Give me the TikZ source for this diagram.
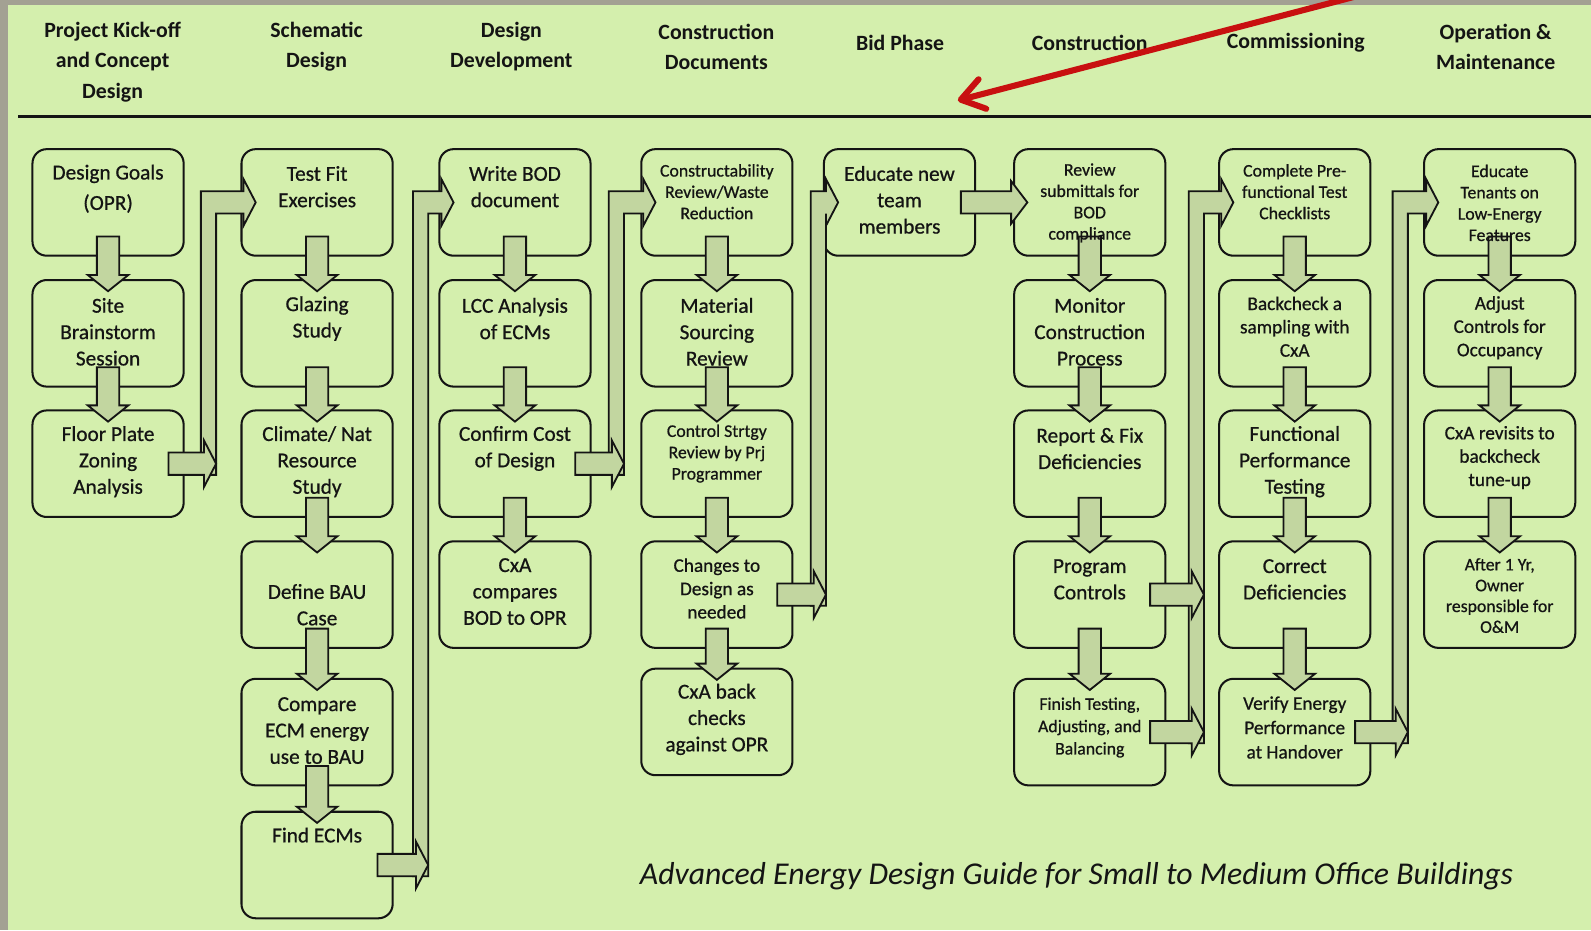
\documentclass[tikz,border=0pt]{standalone}
\usepackage{fontspec}
\setmainfont{Carlito}
\newfontfamily\boxfont{Carlito}[FakeBold=0.7]
\newfontfamily\hdrfont{Carlito}[FakeBold=0.5]
\usetikzlibrary{calc,arrows.meta}
\definecolor{bggreen}{RGB}{212,239,173}
\definecolor{framegray}{RGB}{163,161,147}
\definecolor{arrowfill}{RGB}{194,214,160}
\definecolor{redarrow}{RGB}{200,16,16}
\definecolor{ink}{RGB}{20,20,20}
% down block arrow between two stacked boxes
\newcommand\darr[2]{%
  \draw[blk] ($(#1.south)+(-11,-20)$) -- ($(#1.south)+(11,-20)$) -- ($(#2.north)+(11,-4)$) -- ($(#2.north)+(20,-4)$) -- ($(#2.north)+(0,12)$) -- ($(#2.north)+(-20,-4)$) -- ($(#2.north)+(-11,-4)$) -- cycle;}
% elbow bar from lowest feeder box #1 up to target box #2, bar at #3 right of feeder
\newcommand\elbow[3]{%
  \draw[blk] let \p1=(#1.east), \p2=(#2.west) in
  (\x1+#3pt,\y1-11pt) -- (\x1+#3pt,\y2+11pt) -- (\x2+3pt,\y2+11pt) -- (\x2+3pt,\y2+23pt) -- (\x2+15pt,\y2) -- (\x2+3pt,\y2-23pt) -- (\x2+3pt,\y2-11pt) -- (\x1+#3pt+15pt,\y2-11pt) -- (\x1+#3pt+15pt,\y1-11pt) -- cycle;}
% feeder arrow from box #1 into the bar at #2 right of it
\newcommand\feed[2]{%
  \draw[blk] let \p1=(#1.east) in
  (\x1-16pt,\y1+11pt) -- (\x1+#2pt+3pt,\y1+11pt) -- (\x1+#2pt+3pt,\y1+23pt) -- (\x1+#2pt+15pt,\y1) -- (\x1+#2pt+3pt,\y1-23pt) -- (\x1+#2pt+3pt,\y1-11pt) -- (\x1-16pt,\y1-11pt) -- cycle;}
\begin{document}
\begin{tikzpicture}[x=1pt,y=-1pt,
  box/.style={draw=ink, line width=2pt, rounded corners=14pt, minimum width=149pt, minimum height=105pt, inner sep=0pt},
  blk/.style={draw=ink, line width=1.8pt, fill=arrowfill, line join=miter},
  txt/.style={align=center, inner sep=0pt, text=ink, font=\boxfont\fontsize{21}{26}\selectfont},
  sm/.style={font=\boxfont\fontsize{17.5}{21}\selectfont},
  md/.style={font=\boxfont\fontsize{19}{23}\selectfont},
  hdr/.style={align=center, inner sep=0pt, text=ink, font=\bfseries\fontsize{21.5}{30}\selectfont}]
\useasboundingbox (0,0) rectangle (1568,917);
\fill[framegray] (0,0) rectangle (1568,917);
\fill[bggreen] (8,5) rectangle (1568,917);

% headers
\node[hdr] (h1) at (111,61) {Project Kick-off\\and Concept\\Design};
\node[hdr] (h2) at (312,46) {Schematic\\Design};
\node[hdr] (h3) at (504,46) {Design\\Development};
\node[hdr] (h4) at (706,46) {Construction\\Documents};
\node[hdr] (h5) at (887,42) {Bid Phase};
\node[hdr] (h6) at (1074,42) {Construction};
\node[hdr] (h7) at (1277,42) {Commissioning};
\node[hdr] (h8) at (1474,46) {Operation \&\\Maintenance};
\coordinate (hl1) at (18,115);
\coordinate (hl2) at (1568,115);
\draw[ink, line width=2.5pt] (hl1) -- (hl2);

% boxes
\foreach \n/\y in {r1/199.5, r2/328.5, r3/457} \node[box] (c1\n) at (106.5,\y) {};
\foreach \n/\y in {r1/199.5, r2/328.5, r3/457, r4/586, r5/721.5, r6/852.5} \node[box] (c2\n) at (312.5,\y) {};
\foreach \n/\y in {r1/199.5, r2/328.5, r3/457, r4/586} \node[box] (c3\n) at (507.5,\y) {};
\foreach \n/\y in {r1/199.5, r2/328.5, r3/457, r4/586, r5/711.5} \node[box] (c4\n) at (706.5,\y) {};
\node[box] (c5r1) at (886.5,199.5) {};
\foreach \n/\y in {r1/199.5, r2/328.5, r3/457, r4/586, r5/721.5} \node[box] (c6\n) at (1074,\y) {};
\foreach \n/\y in {r1/199.5, r2/328.5, r3/457, r4/586, r5/721.5} \node[box] (c7\n) at (1276,\y) {};
\foreach \n/\y in {r1/199.5, r2/328.5, r3/457, r4/586} \node[box] (c8\n) at (1478,\y) {};

% vertical arrows
\darr{c1r1}{c1r2} \darr{c1r2}{c1r3}
\darr{c2r1}{c2r2} \darr{c2r2}{c2r3} \darr{c2r3}{c2r4} \darr{c2r4}{c2r5} \darr{c2r5}{c2r6}
\darr{c3r1}{c3r2} \darr{c3r2}{c3r3} \darr{c3r3}{c3r4}
\darr{c4r1}{c4r2} \darr{c4r2}{c4r3} \darr{c4r3}{c4r4} \darr{c4r4}{c4r5}
\darr{c6r1}{c6r2} \darr{c6r2}{c6r3} \darr{c6r3}{c6r4} \darr{c6r4}{c6r5}
\darr{c7r1}{c7r2} \darr{c7r2}{c7r3} \darr{c7r3}{c7r4} \darr{c7r4}{c7r5}
\darr{c8r1}{c8r2} \darr{c8r2}{c8r3} \darr{c8r3}{c8r4}

% column-to-column connectors
\elbow{c1r3}{c2r1}{16} \feed{c1r3}{16}
\elbow{c2r6}{c3r1}{19} \feed{c2r6}{19}
\elbow{c3r3}{c4r1}{17} \feed{c3r3}{17}
\elbow{c4r4}{c5r1}{17} \feed{c4r4}{17}
\draw[blk] let \p1=(c5r1.east), \p2=(c6r1.west) in
  (\x1-15pt,\y1+11pt) -- (\x2-2pt,\y1+11pt) -- (\x2-2pt,\y1+21pt) -- (\x2+14pt,\y1) -- (\x2-2pt,\y1-21pt) -- (\x2-2pt,\y1-11pt) -- (\x1-15pt,\y1-11pt) -- cycle;
\elbow{c6r5}{c7r1}{22} \feed{c6r4}{22} \feed{c6r5}{22}
\elbow{c7r5}{c8r1}{21} \feed{c7r5}{21}

% texts
\node[txt,font=\boxfont\fontsize{21}{30}\selectfont] (c1r1t) at (106.5,186) {Design Goals\\(OPR)};
\node[txt] (c1r2t) at (106.5,327) {Site\\Brainstorm\\Session};
\node[txt] (c1r3t) at (106.5,455) {Floor Plate\\Zoning\\Analysis};
\node[txt] (c2r1t) at (312.5,184) {Test Fit\\Exercises};
\node[txt] (c2r2t) at (312.5,314) {Glazing\\Study};
\node[txt] (c2r3t) at (312.5,455) {Climate/ Nat\\Resource\\Study};
\node[txt] (c2r4t) at (312.5,596) {Define BAU\\Case};
\node[txt] (c2r5t) at (312.5,720) {Compare\\ECM energy\\use to BAU};
\node[txt] (c2r6t) at (312.5,823) {Find ECMs};
\node[txt] (c3r1t) at (507.5,184) {Write BOD\\document};
\node[txt] (c3r2t) at (507.5,314) {LCC Analysis\\of ECMs};
\node[txt] (c3r3t) at (507.5,442) {Confirm Cost\\of Design};
\node[txt] (c3r4t) at (507.5,583) {CxA\\compares\\BOD to OPR};
\node[txt,sm] (c4r1t) at (706.5,189) {Constructability\\Review/Waste\\Reduction};
\node[txt] (c4r2t) at (706.5,327) {Material\\Sourcing\\Review};
\node[txt,sm] (c4r3t) at (706.5,447) {Control Strtgy\\Review by Prj\\Programmer};
\node[txt,md] (c4r4t) at (706.5,580) {Changes to\\Design as\\needed};
\node[txt] (c4r5t) at (706.5,709) {CxA back\\checks\\against OPR};
\node[txt] (c5r1t) at (886.5,197) {Educate new\\team\\members};
\node[txt,sm] (c6r1t) at (1074,200) {Review\\submittals for\\BOD\\compliance};
\node[txt] (c6r2t) at (1074,327) {Monitor\\Construction\\Process};
\node[txt] (c6r3t) at (1074,442) {Report \& Fix\\Deficiencies};
\node[txt] (c6r4t) at (1074,571) {Program\\Controls};
\node[txt,font=\boxfont\fontsize{17.5}{22}\selectfont] (c6r5t) at (1074,717) {Finish Testing,\\Adjusting, and\\Balancing};
\node[txt,sm] (c7r1t) at (1276,189) {Complete Pre-\\functional Test\\Checklists};
\node[txt,md] (c7r2t) at (1276,322) {Backcheck a\\sampling with\\CxA};
\node[txt] (c7r3t) at (1276,455) {Functional\\Performance\\Testing};
\node[txt] (c7r4t) at (1276,571) {Correct\\Deficiencies};
\node[txt,font=\boxfont\fontsize{19}{24}\selectfont] (c7r5t) at (1276,717) {Verify Energy\\Performance\\at Handover};
\node[txt,sm] (c8r1t) at (1478,200) {Educate\\Tenants on\\Low-Energy\\Features};
\node[txt,md] (c8r2t) at (1478,323) {Adjust\\Controls for\\Occupancy};
\node[txt,md] (c8r3t) at (1478,451) {CxA revisits to\\backcheck\\tune-up};
\node[txt,font=\boxfont\fontsize{17.5}{20.5}\selectfont] (c8r4t) at (1478,587) {After 1 Yr,\\Owner\\responsible for\\O\&M};

% caption
\node[inner sep=0pt, text=ink, font=\itshape\fontsize{31.3}{36}\selectfont] (caption) at (1061,864) {Advanced Energy Design Guide for Small to Medium Office Buildings};

% red arrow
\coordinate (redtail) at (1338,-4);
\coordinate (redtip) at (944,99);
\draw[redarrow, line width=6pt, line cap=round, -{Straight Barb[length=22pt,width=30pt,round]}] (redtail) -- (redtip);
\end{tikzpicture}
\end{document}
